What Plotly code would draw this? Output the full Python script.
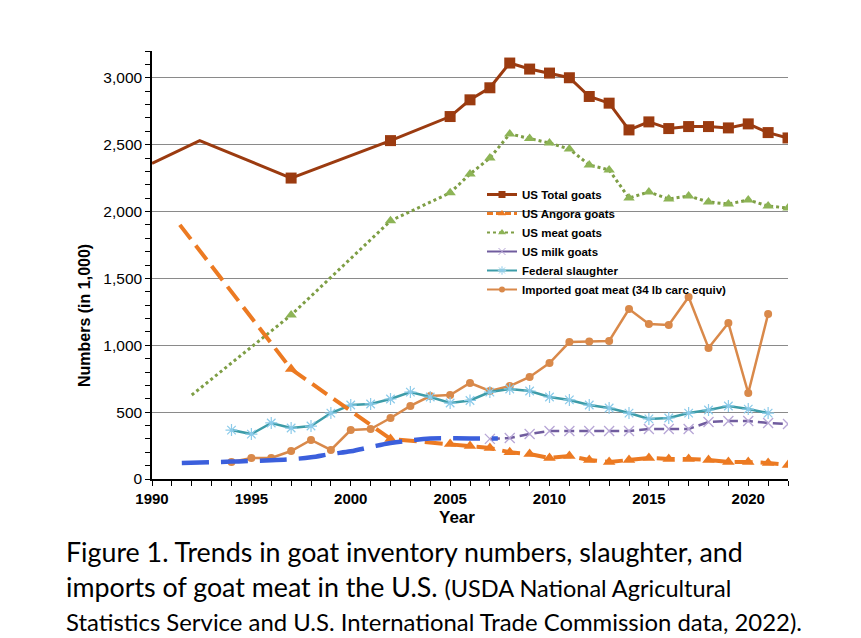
import plotly.graph_objects as go

# ---------------- data ----------------
total_years = [1990, 1992.4, 1997, 2002, 2005, 2006, 2007, 2008, 2009, 2010, 2011,
               2012, 2013, 2014, 2015, 2016, 2017, 2018, 2019, 2020, 2021, 2022]
total_goats = [2360, 2530, 2250, 2530, 2710, 2835, 2925, 3110, 3065, 3035, 3000,
               2860, 2810, 2610, 2670, 2620, 2635, 2635, 2625, 2655, 2590, 2550]
total_marked = [False, False] + [True] * 20

angora_years = [1991.4, 1997, 2002, 2005, 2006, 2007, 2008, 2009, 2010, 2011, 2012,
                2013, 2014, 2015, 2016, 2017, 2018, 2019, 2020, 2021, 2022]
angora_goats = [1900, 822, 300, 262, 247, 232, 200, 187, 157, 172, 142,
                127, 142, 157, 150, 150, 142, 127, 127, 120, 105]
angora_marked = [False] + [True] * 20

meat_years = [1992, 1997, 2002, 2005, 2006, 2007, 2008, 2009, 2010, 2011, 2012,
              2013, 2014, 2015, 2016, 2017, 2018, 2019, 2020, 2021, 2022]
meat_goats = [628, 1226, 1930, 2140, 2280, 2400, 2580, 2545, 2512, 2467, 2348,
              2310, 2101, 2146, 2094, 2116, 2071, 2056, 2086, 2041, 2026]
meat_marked = [False] + [True] * 20

milk_years = list(range(2007, 2023))
milk_goats = [300, 306, 336, 359, 359, 359, 359, 359, 374, 374, 374, 426, 434, 434, 419, 411]

fed_years = list(range(1994, 2022))
fed_slaughter = [366, 336, 419, 381, 396, 493, 553, 561, 598, 650, 613, 568, 587, 650,
                 673, 658, 613, 591, 553, 531, 493, 449, 456, 493, 516, 546, 523, 493]

imp_years = list(range(1994, 2022))
imported_meat = [127, 157, 157, 209, 292, 217, 366, 374, 456, 546, 620, 628, 718, 658,
                 695, 763, 867, 1024, 1028, 1032, 1271, 1159, 1152, 1361, 980, 1166, 643, 1234]

# unlabeled blue dashed series (early milk-goat estimates)
early_years = [1991.5, 1994, 1996, 1997, 1998, 1999, 2000, 2001, 2002, 2003, 2004, 2005, 2006, 2007.4]
early_values = [120, 130, 140, 148, 162, 187, 207, 239, 269, 288, 302, 304, 303, 302]

y_ticks = [0, 500, 1000, 1500, 2000, 2500, 3000]
x_ticks = [1990, 1995, 2000, 2005, 2010, 2015, 2020]

# ---------------- styling ----------------
C_TOTAL = "#9B3B10"
C_ANGORA = "#EC7A22"
C_MEAT_L = "#7E9E45"
C_MEAT_M = "#8DB456"
C_MILK_L = "#705C9E"
C_MILK_M = "#B7A6D6"
C_FED_L = "#3D9CA8"
C_FED_M = "#8CCBEA"
C_IMP = "#D9894A"
C_BLUE = "#3B5FDC"

FONT = "Liberation Sans, Arial, sans-serif"

fig = go.Figure()


def sizes(flags, s):
    return [s if f else 0 for f in flags]


# plotted traces (no legend)
fig.add_trace(go.Scatter(x=total_years, y=total_goats, mode="lines+markers",
                         line=dict(color=C_TOTAL, width=3),
                         marker=dict(symbol="square", size=sizes(total_marked, 11), color=C_TOTAL,
                                     opacity=1, line=dict(width=0)),
                         showlegend=False, hoverinfo="skip"))
fig.add_trace(go.Scatter(x=meat_years, y=meat_goats, mode="lines+markers",
                         line=dict(color=C_MEAT_L, width=3, dash="dot"),
                         marker=dict(symbol="triangle-up", size=sizes(meat_marked, 10), color=C_MEAT_M,
                                     opacity=1, line=dict(width=0)),
                         showlegend=False, hoverinfo="skip"))
fig.add_trace(go.Scatter(x=imp_years, y=imported_meat, mode="lines+markers",
                         line=dict(color=C_IMP, width=2.5),
                         marker=dict(symbol="circle", size=8, color=C_IMP, opacity=1, line=dict(width=0)),
                         showlegend=False, hoverinfo="skip"))
fig.add_trace(go.Scatter(x=fed_years, y=fed_slaughter, mode="lines+markers",
                         line=dict(color=C_FED_L, width=2.5),
                         marker=dict(symbol="asterisk-open", size=10, color=C_FED_M,
                                     line=dict(width=1.2, color=C_FED_M)),
                         showlegend=False, hoverinfo="skip"))
fig.add_trace(go.Scatter(x=milk_years, y=milk_goats, mode="lines+markers",
                         line=dict(color=C_MILK_L, width=2.5, dash="10px,5px"),
                         marker=dict(symbol="x-thin-open", size=10, color=C_MILK_M,
                                     line=dict(width=1.3, color=C_MILK_M)),
                         showlegend=False, hoverinfo="skip"))
fig.add_trace(go.Scatter(x=angora_years, y=angora_goats, mode="lines+markers",
                         line=dict(color=C_ANGORA, width=4, dash="18px,8px"),
                         marker=dict(symbol="triangle-up", size=sizes(angora_marked, 11), color=C_ANGORA,
                                     opacity=1, line=dict(width=0)),
                         showlegend=False, hoverinfo="skip"))
fig.add_trace(go.Scatter(x=early_years, y=early_values, mode="lines", line_shape="spline",
                         line=dict(color=C_BLUE, width=4.5, dash="27px,12px"),
                         showlegend=False, hoverinfo="skip"))

# legend entries
legend_items = [
    ("US Total goats", dict(color=C_TOTAL, width=3), dict(symbol="square", size=7, color=C_TOTAL)),
    ("US Angora goats", dict(color=C_ANGORA, width=3, dash="6px,3px"), dict(symbol="triangle-up", size=7, color=C_ANGORA)),
    ("US meat goats", dict(color=C_MEAT_L, width=2, dash="dot"), dict(symbol="triangle-up", size=7, color=C_MEAT_M)),
    ("US milk goats", dict(color=C_MILK_L, width=2), dict(symbol="x-thin-open", size=7, color=C_MILK_M, line=dict(width=1, color=C_MILK_M))),
    ("Federal slaughter", dict(color=C_FED_L, width=2), dict(symbol="asterisk-open", size=7, color=C_FED_M, line=dict(width=1, color=C_FED_M))),
    ("Imported goat meat (34 lb carc equiv)", dict(color=C_IMP, width=2), dict(symbol="circle", size=6, color=C_IMP)),
]
for name, ln, mk in legend_items:
    fig.add_trace(go.Scatter(x=[None], y=[None], mode="lines+markers", name=name,
                             line=ln, marker=mk, showlegend=True))

# ---------------- layout ----------------
L, R, T, B = 152, 788, 51, 479
W, H = 861, 638
PW, PH = R - L, B - T


def px(xp):
    return (xp - L) / PW


def py(yp):
    return (B - yp) / PH


fig.update_layout(
    width=W, height=H,
    margin=dict(l=L, r=W - R, t=T, b=H - B, pad=0),
    paper_bgcolor="white", plot_bgcolor="white",
    font=dict(family=FONT, color="black"),
    xaxis=dict(range=[1990, 2022], tickvals=x_ticks, showgrid=False, zeroline=False,
               showline=True, linecolor="black", linewidth=1.5,
               ticks="outside", ticklen=5, tickwidth=1.2, tickcolor="black",
               minor=dict(dtick=1, tick0=1990, ticks="outside", ticklen=5, tickwidth=1.2,
                          tickcolor="black", showgrid=False),
               tickfont=dict(family=FONT, size=15, weight="bold", color="black")),
    yaxis=dict(range=[0, 3200], tickvals=y_ticks, tickformat=",d", showgrid=True,
               gridcolor="#8a8a8a", gridwidth=1, zeroline=False,
               showline=True, linecolor="black", linewidth=1.5,
               ticks="outside", ticklen=5, tickwidth=1.2, tickcolor="black",
               minor=dict(dtick=100, tick0=0, ticks="outside", ticklen=5, tickwidth=1.2,
                          tickcolor="black", showgrid=False),
               tickfont=dict(family=FONT, size=15.5, color="black")),
    legend=dict(x=px(482), y=py(180), xanchor="left", yanchor="top",
                bgcolor="rgba(0,0,0,0)", borderwidth=0,
                font=dict(family=FONT, size=11.5, weight="bold", color="black"),
                tracegroupgap=0, itemwidth=30),
    showlegend=True,
)

CAP = "Lato, Noto Sans, sans-serif"
annotations = [
    dict(text="Numbers (in 1,000)", x=px(84), y=py(316), textangle=-90,
         font=dict(family=FONT, size=16, weight="bold", color="black")),
    dict(text="Year", x=px(457), y=py(517),
         font=dict(family=FONT, size=17, weight="bold", color="black")),
    dict(text="Figure 1. Trends in goat inventory numbers, slaughter, and",
         x=px(64), y=py(552), xanchor="left",
         font=dict(family=CAP, size=26.8, color="black")),
    dict(text="imports of goat meat in the U.S. <span style='font-size:23.5px'>(USDA National Agricultural</span>",
         x=px(64), y=py(587), xanchor="left",
         font=dict(family=CAP, size=26.8, color="black")),
    dict(text="Statistics Service and U.S. International Trade Commission data, 2022).",
         x=px(64), y=py(621), xanchor="left",
         font=dict(family=CAP, size=23.9, color="black")),
]
for a in annotations:
    a.setdefault("xanchor", "center")
    fig.add_annotation(xref="paper", yref="paper", showarrow=False, yanchor="middle", **a)

fig.write_html("out.html")
